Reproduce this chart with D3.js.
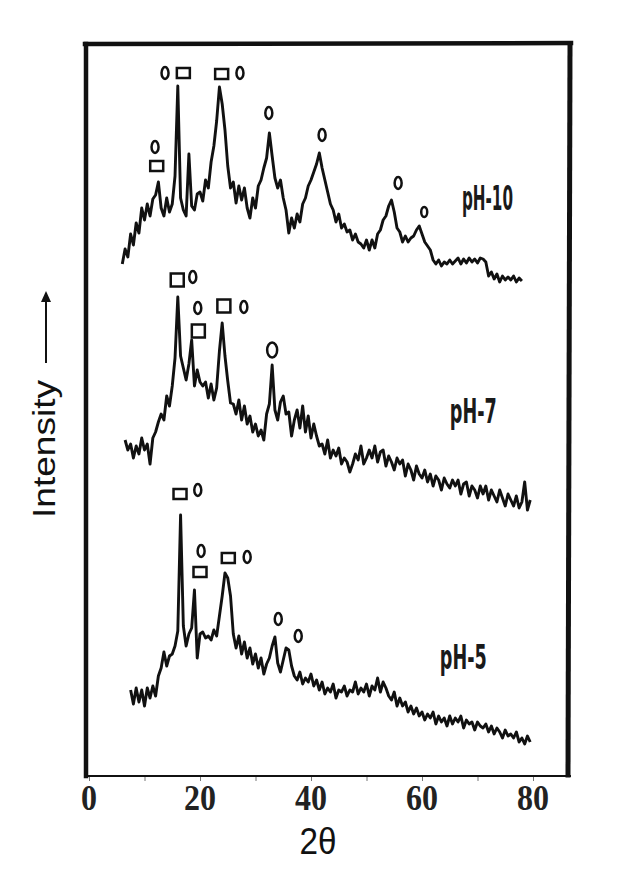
<!DOCTYPE html>
<html>
<head>
<meta charset="utf-8">
<script src="https://cdn.jsdelivr.net/npm/d3@7"></script>
<style>
body{margin:0;background:#fff;}
</style>
</head>
<body>
<svg id="chart" width="632" height="873"></svg>
<script>

/* 2θ grid (deg), shared by all three patterns */
const two_theta = [
  6.0, 6.5, 7.0, 7.5, 8.0, 8.5, 9.0, 9.5, 10.0, 10.5,
  11.0, 11.5, 12.0, 12.5, 13.0, 13.5, 14.0, 14.5, 15.0, 15.5,
  16.0, 16.5, 17.0, 17.5, 18.0, 18.5, 19.0, 19.5, 20.0, 20.5,
  21.0, 21.5, 22.0, 22.5, 23.0, 23.5, 24.0, 24.5, 25.0, 25.5,
  26.0, 26.5, 27.0, 27.5, 28.0, 28.5, 29.0, 29.5, 30.0, 30.5,
  31.0, 31.5, 32.0, 32.5, 33.0, 33.5, 34.0, 34.5, 35.0, 35.5,
  36.0, 36.5, 37.0, 37.5, 38.0, 38.5, 39.0, 39.5, 40.0, 40.5,
  41.0, 41.5, 42.0, 42.5, 43.0, 43.5, 44.0, 44.5, 45.0, 45.5,
  46.0, 46.5, 47.0, 47.5, 48.0, 48.5, 49.0, 49.5, 50.0, 50.5,
  51.0, 51.5, 52.0, 52.5, 53.0, 53.5, 54.0, 54.5, 55.0, 55.5,
  56.0, 56.5, 57.0, 57.5, 58.0, 58.5, 59.0, 59.5, 60.0, 60.5,
  61.0, 61.5, 62.0, 62.5, 63.0, 63.5, 64.0, 64.5, 65.0, 65.5,
  66.0, 66.5, 67.0, 67.5, 68.0, 68.5, 69.0, 69.5, 70.0, 70.5,
  71.0, 71.5, 72.0, 72.5, 73.0, 73.5, 74.0, 74.5, 75.0, 75.5,
  76.0, 76.5, 77.0, 77.5, 78.0, 78.5, 79.0, 79.5
]

/* intensities (a.u., already stacked with offsets), null = not measured */
const int_ph10 = [
  512, 527, 519, 542, 531, 553, 543, 568, 556, 572,
  560, 577, 581, 594, 568, 560, 578, 564, 572, 600,
  690, 578, 566, 560, 622, 570, 566, 582, 584, 575,
  596, 588, 614, 630, 655, 689, 672, 646, 610, 588,
  594, 573, 590, 576, 588, 568, 558, 578, 568, 590,
  596, 608, 618, 643, 620, 598, 588, 596, 578, 566,
  543, 558, 548, 562, 554, 572, 578, 590, 596, 604,
  612, 623, 608, 596, 584, 572, 566, 554, 562, 548,
  552, 544, 546, 536, 542, 534, 532, 528, 536, 526,
  536, 528, 542, 546, 556, 560, 570, 576, 564, 548,
  544, 534, 540, 534, 538, 540, 546, 550, 542, 534,
  530, 526, 516, 512, 516, 510, 514, 512, 516, 512,
  515, 518, 512, 517, 513, 518, 514, 517, 513, 518,
  517, 514, 500, 504, 497, 502, 494, 500, 496, 499,
  496, 500, 494, 498, 495, null, null, null
]

const int_ph7 = [
  null, 336, 326, 332, 318, 330, 322, 338, 326, 332,
  312, 338, 344, 354, 362, 356, 380, 370, 390, 418,
  479, 420, 408, 396, 412, 436, 390, 406, 394, 390,
  394, 378, 392, 376, 388, 425, 453, 420, 395, 373,
  372, 362, 376, 356, 370, 352, 360, 344, 352, 340,
  346, 336, 362, 372, 411, 366, 356, 374, 380, 362,
  364, 340, 356, 366, 348, 370, 344, 360, 338, 352,
  340, 330, 332, 322, 336, 318, 326, 320, 328, 312,
  318, 314, 304, 312, 322, 316, 330, 312, 318, 326,
  318, 330, 314, 324, 326, 310, 320, 314, 306, 318,
  312, 316, 300, 312, 306, 296, 310, 302, 298, 306,
  294, 302, 290, 300, 296, 286, 298, 292, 288, 296,
  290, 296, 282, 292, 294, 280, 290, 286, 278, 290,
  282, 290, 276, 286, 280, 274, 286, 278, 270, 282,
  276, 270, 280, 268, 274, 294, 266, 276
]

const int_ph5 = [
  null, null, null, 86, 72, 88, 74, 86, 70, 88,
  78, 90, 80, 100, 108, 124, 110, 120, 122, 130,
  145, 261, 150, 130, 142, 148, 186, 118, 142, 144,
  138, 140, 136, 146, 140, 160, 180, 203, 198, 180,
  142, 128, 140, 122, 134, 118, 128, 112, 122, 108,
  118, 102, 112, 118, 130, 139, 113, 104, 116, 128,
  126, 110, 100, 96, 104, 92, 98, 94, 102, 90,
  96, 86, 94, 82, 88, 84, 92, 78, 86, 84,
  90, 80, 86, 84, 94, 82, 88, 84, 92, 80,
  90, 86, 98, 84, 94, 88, 80, 76, 84, 70,
  78, 70, 74, 64, 70, 62, 68, 60, 64, 56,
  62, 58, 64, 52, 60, 54, 58, 50, 60, 52,
  58, 54, 60, 48, 56, 52, 54, 46, 54, 50,
  48, 52, 44, 50, 42, 48, 44, 38, 46, 40,
  42, 38, 44, 34, 38, 32, 40, 34
]

const series_names = ['pH-10', 'pH-7', 'pH-5']

/* phase marks: [symbol, 2θ, intensity]   sq = square phase, o = circle phase */
const marks_ph10 = [
  ['o', 13.7, 703], ['sq', 17.0, 703], ['sq', 23.9, 702], ['o', 27.2, 703],
  ['o', 11.9, 629], ['sq', 12.2, 610],
  ['o', 32.4, 663], ['o', 42.0, 641], ['o', 55.7, 593], ['os', 60.4, 564]
]
const marks_ph7 = [
  ['SQ', 15.9, 496], ['o', 18.7, 499],
  ['o', 19.6, 468], ['SQ', 19.7, 445],
  ['SQ', 24.3, 470], ['o', 27.9, 469],
  ['O', 33.0, 426]
]
const marks_ph5 = [
  ['sq', 16.4, 282], ['o', 19.6, 286],
  ['o', 20.2, 225], ['sq', 20.0, 204],
  ['sq', 25.1, 218], ['o', 28.5, 219],
  ['o', 34.1, 157], ['o', 37.7, 140]
]

const x_ticks = [0, 10, 20, 30, 40, 50, 60, 70, 80]
const x_labels = [0, 20, 40, 60, 80]


const svg = d3.select('#chart')

/* scales: 2θ -> px, intensity -> px */
const x = d3.scaleLinear().domain([0, 80]).range([89, 533])
const y = d3.scaleLinear().domain([0, 732]).range([776, 44])

/* frame */
const frame = svg.append('g').attr('stroke', '#111').attr('stroke-linecap', 'square')
frame.append('line').attr('x1', 85).attr('y1', 44).attr('x2', 571).attr('y2', 43).attr('stroke-width', 4.5)
frame.append('line').attr('x1', 86).attr('y1', 44).attr('x2', 86).attr('y2', 776).attr('stroke-width', 4.5)
frame.append('line').attr('x1', 570).attr('y1', 45).attr('x2', 568).attr('y2', 775).attr('stroke-width', 5)

/* bottom axis */
const axis = svg.append('g')
  .attr('transform', `translate(0,${y(0)})`)
  .call(d3.axisBottom(x).tickValues(x_ticks).tickSize(5).tickFormat(''))
axis.select('.domain').remove()
axis.selectAll('.tick line').attr('stroke', '#777').attr('stroke-width', 1)
svg.append('line')
  .attr('x1', 85).attr('x2', 571)
  .attr('y1', y(0)).attr('y2', y(0))
  .attr('stroke', '#111').attr('stroke-width', 2)

svg.append('g')
  .selectAll('text')
  .data(x_labels)
  .join('text')
  .attr('x', d => x(d))
  .attr('y', 810)
  .attr('text-anchor', 'middle')
  .attr('font-family', '"Liberation Serif", "Times New Roman", serif')
  .attr('font-weight', 'bold')
  .attr('font-size', 35)
  .attr('textLength', d => String(d).length * 16)
  .attr('lengthAdjust', 'spacingAndGlyphs')
  .attr('fill', '#222')
  .text(d => d)

/* axis titles */
svg.append('text')
  .attr('x', 318).attr('y', 854)
  .attr('text-anchor', 'middle')
  .attr('font-family', '"Liberation Sans", Arial, sans-serif')
  .attr('font-size', 36)
  .attr('textLength', 37)
  .attr('lengthAdjust', 'spacingAndGlyphs')
  .attr('fill', '#111')
  .text('2θ')

svg.append('text')
  .attr('transform', 'translate(55,449) rotate(-90)')
  .attr('text-anchor', 'middle')
  .attr('font-family', '"Liberation Sans", Arial, sans-serif')
  .attr('font-size', 31)
  .attr('textLength', 138)
  .attr('lengthAdjust', 'spacingAndGlyphs')
  .attr('fill', '#111')
  .text('Intensity')

/* arrow next to Intensity */
svg.append('line')
  .attr('x1', 46).attr('y1', 363).attr('x2', 46).attr('y2', 300)
  .attr('stroke', '#111').attr('stroke-width', 2)
svg.append('path')
  .attr('d', 'M46,291 L41,302 L51,302 Z')
  .attr('fill', '#111')

/* the three patterns */
const line = d3.line()
  .defined(d => d[1] != null)
  .x(d => x(d[0]))
  .y(d => y(d[1]))

const patterns = [int_ph10, int_ph7, int_ph5]

svg.append('g')
  .selectAll('path')
  .data(patterns)
  .join('path')
  .attr('d', vals => line(two_theta.map((t, i) => [t, vals[i]])))
  .attr('fill', 'none')
  .attr('stroke', '#111')
  .attr('stroke-width', 2.9)
  .attr('stroke-linejoin', 'round')

/* series labels (condensed bold) */
const label_at = [[67.2, 566], [65.0, 353], [63.2, 107]]
const label_len = [51, 47, 47]

svg.append('g')
  .selectAll('text')
  .data(series_names)
  .join('text')
  .attr('x', (d, i) => x(label_at[i][0]))
  .attr('y', (d, i) => y(label_at[i][1]))
  .attr('font-family', '"DejaVu Sans Condensed", "DejaVu Sans", sans-serif')
  .attr('font-weight', 'bold')
  .attr('font-size', 33)
  .attr('textLength', (d, i) => label_len[i])
  .attr('lengthAdjust', 'spacingAndGlyphs')
  .attr('fill', '#1a1a1a')
  .text(d => d)

/* phase symbols */
const all_marks = [].concat(marks_ph10, marks_ph7, marks_ph5)
const g_marks = svg.append('g')
  .attr('fill', 'none')
  .attr('stroke', '#111')
  .attr('stroke-width', 2.5)

const sq_size = {sq: [13, 10], SQ: [13, 13]}
const ell_size = {o: [3.5, 6], O: [5, 7.5], os: [3, 5]}

g_marks.selectAll('rect')
  .data(all_marks.filter(d => d[0] in sq_size))
  .join('rect')
  .attr('x', d => x(d[1]) - sq_size[d[0]][0] / 2)
  .attr('y', d => y(d[2]) - sq_size[d[0]][1] / 2)
  .attr('width', d => sq_size[d[0]][0])
  .attr('height', d => sq_size[d[0]][1])

g_marks.selectAll('ellipse')
  .data(all_marks.filter(d => d[0] in ell_size))
  .join('ellipse')
  .attr('cx', d => x(d[1]))
  .attr('cy', d => y(d[2]))
  .attr('rx', d => ell_size[d[0]][0])
  .attr('ry', d => ell_size[d[0]][1])

</script>
</body>
</html>
